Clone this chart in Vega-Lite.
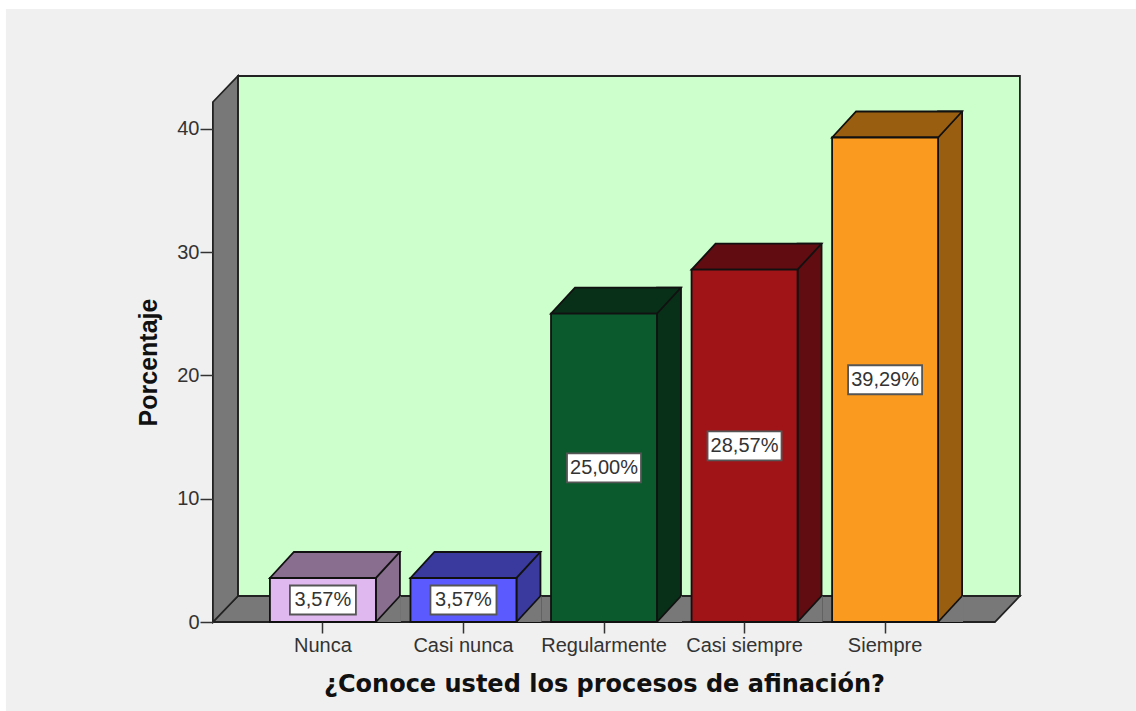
{
  "$schema": "https://vega.github.io/schema/vega-lite/v6.json",
  "width": 782,
  "height": 520,
  "autosize": {"type": "none"},
  "padding": {"left": 213, "top": 102, "right": 141, "bottom": 89},
  "background": "#ffffff",
  "config": {"view": {"stroke": null}, "font": "Liberation Sans"},
  "datasets": {
    "barras": [
      {"categoria": "Nunca", "porcentaje": 3.57, "etiqueta": "3,57%"},
      {"categoria": "Casi nunca", "porcentaje": 3.57, "etiqueta": "3,57%"},
      {"categoria": "Regularmente", "porcentaje": 25.0, "etiqueta": "25,00%"},
      {"categoria": "Casi siempre", "porcentaje": 28.57, "etiqueta": "28,57%"},
      {"categoria": "Siempre", "porcentaje": 39.29, "etiqueta": "39,29%"}
    ],
    "fondo": [{"categoria": "Nunca", "porcentaje": 0}]
  },
  "data": {"name": "barras"},
  "encoding": {
    "x": {
      "field": "categoria", "type": "nominal", "sort": null,
      "scale": {"paddingInner": 0.246, "paddingOuter": 0.405},
      "axis": {
        "title": "¿Conoce usted los procesos de afinación?",
        "titleFont": "DejaVu Sans", "titleFontSize": 24, "titleFontWeight": "bold", "titleColor": "#111111", "titlePadding": 17,
        "labelFont": "Liberation Sans", "labelFontSize": 20, "labelColor": "#333333", "labelAngle": 0, "labelPadding": 2,
        "domain": false, "tickColor": "#333333", "tickWidth": 1.5, "tickSize": 11, "zindex": 1
      }
    },
    "y": {
      "field": "porcentaje", "type": "quantitative",
      "scale": {"domain": [0, 42.17], "nice": false},
      "axis": {
        "title": "Porcentaje", "values": [0, 10, 20, 30, 40],
        "titleFont": "Liberation Sans", "titleFontSize": 25, "titleFontWeight": "bold", "titleColor": "#111111", "titlePadding": 15,
        "labelFont": "Liberation Sans", "labelFontSize": 20, "labelColor": "#333333", "labelPadding": 1,
        "domain": false, "grid": false, "tickColor": "#333333", "tickWidth": 1.5, "tickSize": 13, "zindex": 1
      }
    }
  },
  "layer": [
    {
      "data": {"name": "fondo"},
      "mark": {"type": "point", "shape": "M-317,-613H814V89H-317Z", "size": 4, "filled": true, "fill": "#f0f0f0", "opacity": 1, "strokeWidth": 0}
    },
    {
      "data": {"name": "fondo"},
      "mark": {"type": "point", "shape": "M-85,-546H697V-26H-85Z", "size": 4, "filled": true, "fill": "#ccffcc", "opacity": 1, "stroke": "#222222", "strokeWidth": 1.8}
    },
    {
      "data": {"name": "fondo"},
      "mark": {"type": "point", "shape": "M-110,0L-85,-26H697L672,0Z", "size": 4, "filled": true, "fill": "#787878", "opacity": 1, "stroke": "#222222", "strokeWidth": 1.8}
    },
    {
      "data": {"name": "fondo"},
      "mark": {"type": "point", "shape": "M-110,-520L-85,-546V-26L-110,0Z", "size": 4, "filled": true, "fill": "#787878", "opacity": 1, "stroke": "#222222", "strokeWidth": 1.8}
    },
    {
      "mark": {"type": "bar", "width": 24, "xOffset": 65, "yOffset": -26, "y2Offset": 0, "stroke": "#111111", "strokeWidth": 1.8},
      "encoding": {
        "y2": {"datum": 0},
        "fill": {"field": "categoria", "type": "nominal", "sort": null, "legend": null,
          "scale": {"domain": ["Nunca", "Casi nunca", "Regularmente", "Casi siempre", "Siempre"], "range": ["#8a6e90", "#3a3a9e", "#083018", "#600c10", "#9a5e10"]}}
      }
    },
    {
      "mark": {"type": "point", "shape": "M53,0L77,-26L78,-26V0Z", "size": 4, "filled": true, "fill": "#787878", "opacity": 1, "strokeWidth": 0},
      "encoding": {"y": {"datum": 0}}
    },
    {
      "mark": {"type": "point", "shape": "M53,0L77,-26", "size": 4, "filled": false, "opacity": 1, "stroke": "#111111", "strokeWidth": 1.8},
      "encoding": {"y": {"datum": 0}}
    },
    {
      "mark": {"type": "point", "shape": "M-53,0H53L77,-26H-29Z", "size": 4, "filled": true, "opacity": 1, "stroke": "#111111", "strokeWidth": 1.8},
      "encoding": {
        "fill": {"field": "categoria", "type": "nominal", "sort": null, "legend": null,
          "scale": {"domain": ["Nunca", "Casi nunca", "Regularmente", "Casi siempre", "Siempre"], "range": ["#8a6e90", "#3a3a9e", "#083018", "#600c10", "#9a5e10"]}}
      }
    },
    {
      "mark": {"type": "bar", "stroke": "#111111", "strokeWidth": 1.8},
      "encoding": {
        "y2": {"datum": 0},
        "fill": {"field": "categoria", "type": "nominal", "sort": null, "legend": null,
          "scale": {"domain": ["Nunca", "Casi nunca", "Regularmente", "Casi siempre", "Siempre"], "range": ["#e0b8f0", "#5a5aff", "#0b5a2e", "#a01418", "#fa9a1e"]}}
      }
    },
    {
      "transform": [{"calculate": "datum.porcentaje / 2", "as": "mitad"}, {"filter": "datum.porcentaje < 10"}],
      "mark": {"type": "point", "shape": "M-33,-14.5H33V14.5H-33Z", "size": 4, "filled": true, "fill": "#ffffff", "opacity": 1, "stroke": "#555555", "strokeWidth": 1.8},
      "encoding": {"y": {"field": "mitad", "type": "quantitative"}}
    },
    {
      "transform": [{"calculate": "datum.porcentaje / 2", "as": "mitad"}, {"filter": "datum.porcentaje >= 10"}],
      "mark": {"type": "point", "shape": "M-37,-14.5H37V14.5H-37Z", "size": 4, "filled": true, "fill": "#ffffff", "opacity": 1, "stroke": "#555555", "strokeWidth": 1.8},
      "encoding": {"y": {"field": "mitad", "type": "quantitative"}}
    },
    {
      "transform": [{"calculate": "datum.porcentaje / 2", "as": "mitad"}],
      "mark": {"type": "text", "font": "Liberation Sans", "fontSize": 20, "color": "#333333", "baseline": "middle", "align": "center"},
      "encoding": {"y": {"field": "mitad", "type": "quantitative"}, "text": {"field": "etiqueta"}}
    }
  ],
  "resolve": {"scale": {"fill": "independent"}}
}
